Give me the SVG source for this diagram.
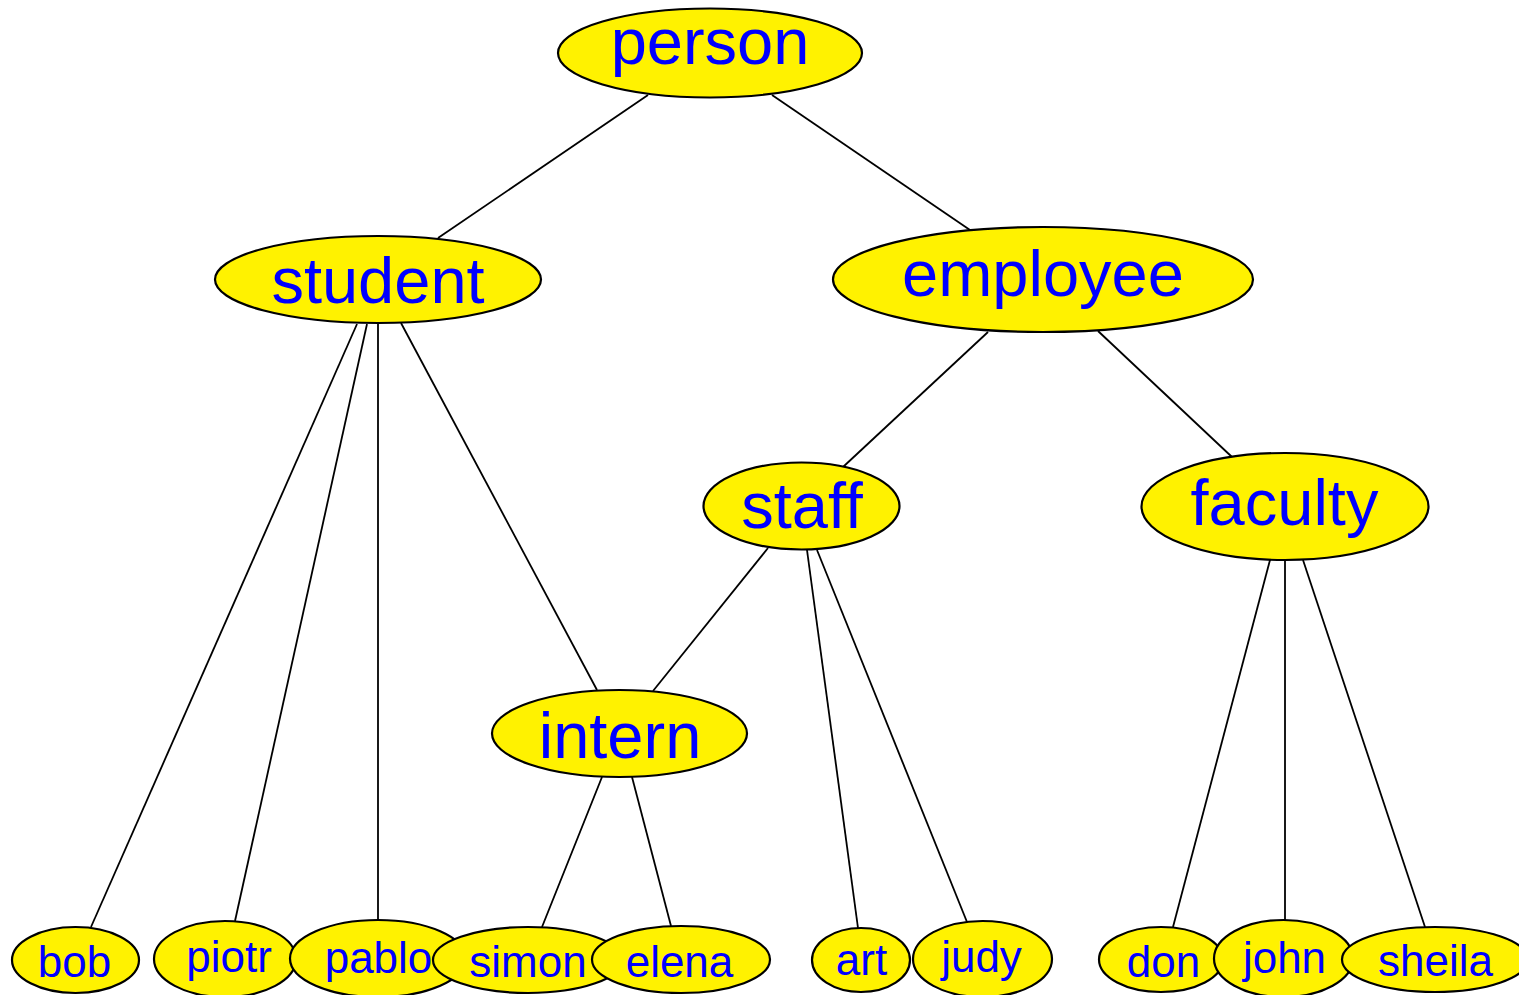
<svg xmlns="http://www.w3.org/2000/svg" width="1519" height="995" viewBox="0 0 1519 995">
<style>
.n ellipse{fill:#fff200;stroke:#000;stroke-width:2.2}
.n text{font-family:"Liberation Sans",Arial,sans-serif;fill:#0000ff;text-anchor:middle}
.big text{font-size:65px}
.small text{font-size:44px}
#edges line{stroke:#000;stroke-width:1.8}
</style>
<rect width="1519" height="995" fill="#fff"/>
<g id="edges">
<line x1="648" y1="95" x2="438" y2="238"/>
<line x1="772" y1="95" x2="970" y2="230"/>
<line x1="357" y1="324" x2="91" y2="927"/>
<line x1="367" y1="324" x2="235" y2="921"/>
<line x1="378" y1="324" x2="378" y2="920"/>
<line x1="401" y1="323" x2="597" y2="690"/>
<line x1="988" y1="332" x2="843" y2="467"/>
<line x1="1098" y1="331" x2="1232" y2="457"/>
<line x1="768" y1="548" x2="653" y2="691"/>
<line x1="807" y1="550" x2="858" y2="928"/>
<line x1="817" y1="550" x2="967" y2="922"/>
<line x1="1270" y1="560" x2="1173" y2="927"/>
<line x1="1285" y1="560" x2="1285" y2="920"/>
<line x1="1303" y1="560" x2="1425" y2="927"/>
<line x1="602" y1="777" x2="542" y2="927"/>
<line x1="632" y1="777" x2="671" y2="926"/>
</g>
<g id="person" class="n big"><ellipse cx="710" cy="53" rx="152" ry="44.5"/><text x="710" y="64">person</text></g>
<g id="student" class="n big"><ellipse cx="378" cy="279.5" rx="163" ry="43.5"/><text x="378" y="303">student</text></g>
<g id="employee" class="n big"><ellipse cx="1043" cy="279.5" rx="210" ry="52.5"/><text x="1043" y="296">employee</text></g>
<g id="staff" class="n big"><ellipse cx="801.5" cy="506" rx="98" ry="43.5"/><text x="802" y="528">staff</text></g>
<g id="faculty" class="n big"><ellipse cx="1285" cy="506.5" rx="143.5" ry="53.5"/><text x="1284.5" y="525">faculty</text></g>
<g id="intern" class="n big"><ellipse cx="619.5" cy="733.5" rx="127.5" ry="43.5"/><text x="620" y="758">intern</text></g>
<g id="bob" class="n small"><ellipse cx="75.5" cy="960" rx="63.5" ry="33"/><text x="74.5" y="977">bob</text></g>
<g id="piotr" class="n small"><ellipse cx="225" cy="959" rx="71" ry="38"/><text x="229" y="972">piotr</text></g>
<g id="pablo" class="n small"><ellipse cx="378" cy="958.5" rx="88" ry="38.5"/><text x="378.5" y="973">pablo</text></g>
<g id="simon" class="n small"><ellipse cx="528" cy="960" rx="95" ry="33"/><text x="528" y="977">simon</text></g>
<g id="elena" class="n small"><ellipse cx="681" cy="959.5" rx="89" ry="33.5"/><text x="679.5" y="977">elena</text></g>
<g id="art" class="n small"><ellipse cx="861" cy="960" rx="49" ry="32"/><text x="861.5" y="975">art</text></g>
<g id="judy" class="n small"><ellipse cx="982.5" cy="959" rx="69.5" ry="38"/><text x="981.5" y="972">judy</text></g>
<g id="don" class="n small"><ellipse cx="1161" cy="959.5" rx="62" ry="32.5"/><text x="1163.5" y="977">don</text></g>
<g id="john" class="n small"><ellipse cx="1283.5" cy="958.5" rx="69.5" ry="38.5"/><text x="1284.5" y="973">john</text></g>
<g id="sheila" class="n small"><ellipse cx="1435" cy="959.5" rx="93" ry="32.5"/><text x="1435.5" y="976">sheila</text></g>
</svg>
